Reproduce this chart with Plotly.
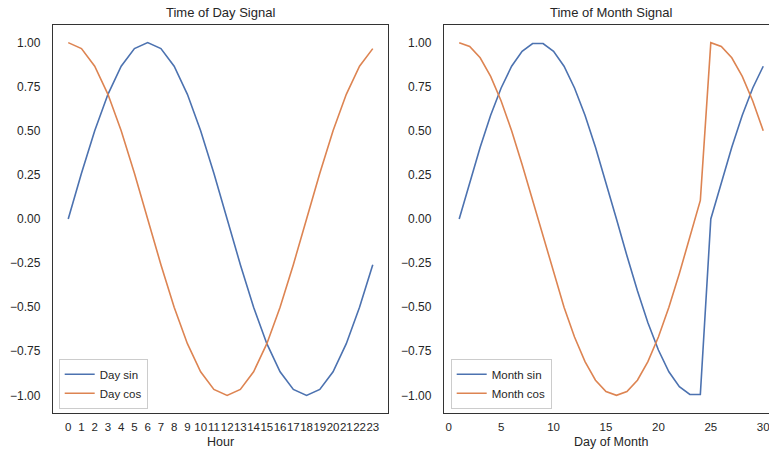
import plotly.graph_objects as go

hours = list(range(24))
day_sin = [0, 0.259, 0.5, 0.707, 0.866, 0.966, 1, 0.966, 0.866, 0.707, 0.5, 0.259,
           0, -0.259, -0.5, -0.707, -0.866, -0.966, -1, -0.966, -0.866, -0.707, -0.5, -0.259]
day_cos = [1, 0.966, 0.866, 0.707, 0.5, 0.259, 0, -0.259, -0.5, -0.707, -0.866, -0.966,
           -1, -0.966, -0.866, -0.707, -0.5, -0.259, 0, 0.259, 0.5, 0.707, 0.866, 0.966]

days = list(range(1, 31))
month_sin = [0, 0.208, 0.407, 0.588, 0.743, 0.866, 0.951, 0.995, 0.995, 0.951, 0.866, 0.743,
             0.588, 0.407, 0.208, 0, -0.208, -0.407, -0.588, -0.743, -0.866, -0.951, -0.995, -0.995,
             0, 0.208, 0.407, 0.588, 0.743, 0.866]
month_cos = [1, 0.978, 0.914, 0.809, 0.669, 0.5, 0.309, 0.105, -0.105, -0.309, -0.5, -0.669,
             -0.809, -0.914, -0.978, -1, -0.978, -0.914, -0.809, -0.669, -0.5, -0.309, -0.105, 0.105,
             1, 0.978, 0.914, 0.809, 0.669, 0.5]

y_ticks = [-1.0, -0.75, -0.5, -0.25, 0.0, 0.25, 0.5, 0.75, 1.0]
month_ticks = [0, 5, 10, 15, 20, 25, 30]

BLUE = "#4C72B0"
ORANGE = "#DD8452"
TXT = "#262626"
FONT = "Liberation Sans, Arial, sans-serif"

fig = go.Figure()
fig.add_trace(go.Scatter(x=hours, y=day_sin, mode="lines", name="Day sin",
                         line=dict(color=BLUE, width=1.6), xaxis="x", yaxis="y", legend="legend"))
fig.add_trace(go.Scatter(x=hours, y=day_cos, mode="lines", name="Day cos",
                         line=dict(color=ORANGE, width=1.6), xaxis="x", yaxis="y", legend="legend"))
fig.add_trace(go.Scatter(x=days, y=month_sin, mode="lines", name="Month sin",
                         line=dict(color=BLUE, width=1.6), xaxis="x2", yaxis="y2", legend="legend2"))
fig.add_trace(go.Scatter(x=days, y=month_cos, mode="lines", name="Month cos",
                         line=dict(color=ORANGE, width=1.6), xaxis="x2", yaxis="y2", legend="legend2"))

L, R, T, B = 53, 0, 25, 37
W, H = 769, 450
pw = W - L - R
d1 = [0, (388 - L) / pw]
d2 = [(444 - L) / pw, 1]

axis_common = dict(showgrid=False, zeroline=False, showline=True, linecolor="#333333",
                   linewidth=1.25, ticks="outside", tickcolor="rgba(0,0,0,0)",
                   ticklabeloverflow="allow")
yfont = dict(size=12, color=TXT, family=FONT)
xfont = dict(size=11.5, color=TXT, family=FONT)

fig.update_layout(
    width=W, height=H,
    margin=dict(l=L, r=R, t=T, b=B, autoexpand=False),
    plot_bgcolor="white", paper_bgcolor="white",
    font=dict(family=FONT, color=TXT),
    xaxis=dict(domain=d1, range=[-1.15, 24.15], tickmode="array", tickvals=hours,
               tickangle=0, mirror=True, ticklen=3, anchor="y", tickfont=xfont, **axis_common),
    yaxis=dict(domain=[0, 1], range=[-1.1, 1.1], tickvals=y_ticks, tickformat=".2f",
               mirror=True, ticklen=9, anchor="x", tickfont=yfont, **axis_common),
    xaxis2=dict(domain=d2, range=[-0.45, 30.55], tickvals=month_ticks, tickangle=0,
                mirror=True, ticklen=3, anchor="y2", tickfont=xfont, **axis_common),
    yaxis2=dict(domain=[0, 1], range=[-1.1, 1.1], tickvals=y_ticks, tickformat=".2f",
                mirror=False, ticklen=9, anchor="x2", tickfont=yfont, **axis_common),
    legend=dict(x=(58.7 - L) / pw, y=0.011, xanchor="left", yanchor="bottom",
                bgcolor="rgba(255,255,255,0.85)", bordercolor="#cccccc", borderwidth=1,
                font=dict(size=11.5, color=TXT, family=FONT)),
    legend2=dict(x=(450.7 - L) / pw, y=0.011, xanchor="left", yanchor="bottom",
                 bgcolor="rgba(255,255,255,0.85)", bordercolor="#cccccc", borderwidth=1,
                 font=dict(size=11.5, color=TXT, family=FONT)),
    showlegend=True,
)

ann_font = dict(size=13, color=TXT, family=FONT)
lab_font = dict(size=12.5, color=TXT, family=FONT)
fig.add_annotation(text="Time of Day Signal", xref="paper", yref="paper",
                   x=(220.5 - L) / pw, y=1, yshift=3, xanchor="center", yanchor="bottom",
                   showarrow=False, font=ann_font)
fig.add_annotation(text="Time of Month Signal", xref="paper", yref="paper",
                   x=(611.3 - L) / pw, y=1, yshift=3, xanchor="center", yanchor="bottom",
                   showarrow=False, font=ann_font)
fig.add_annotation(text="Hour", xref="paper", yref="paper",
                   x=(220.5 - L) / pw, y=0, yshift=-21, xanchor="center", yanchor="top",
                   showarrow=False, font=lab_font, borderpad=0)
fig.add_annotation(text="Day of Month", xref="paper", yref="paper",
                   x=(611.3 - L) / pw, y=0, yshift=-21, xanchor="center", yanchor="top",
                   showarrow=False, font=lab_font, borderpad=0)

fig.write_html("out.html", config={"displayModeBar": False},
               post_script="document.body.style.margin='0px';")
